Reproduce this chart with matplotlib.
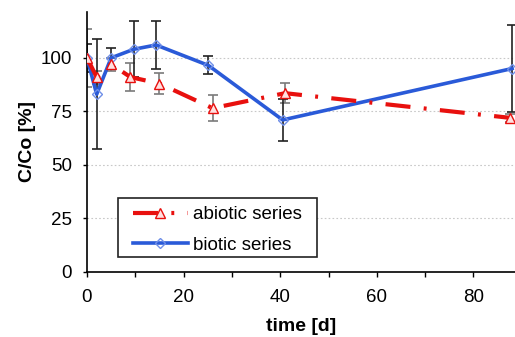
import matplotlib
matplotlib.use("Agg")
import matplotlib.pyplot as plt
from matplotlib.ticker import MultipleLocator
from matplotlib.patches import Rectangle

plt.rcParams['font.family'] = ['Liberation Sans', 'DejaVu Sans']

# abiotic series
abio_t = [0, 2, 5, 9, 15, 26, 41, 87.5]
abio_y = [100, 91, 97, 91, 88, 76.5, 83.5, 72]
abio_err = [13.4, 3, 3, 6.6, 4.7, 6, 4.7, 2]

# biotic series
bio_t = [0, 2, 5, 9.7, 14.3, 25.1, 40.5, 88]
bio_y = [100, 83, 100, 104, 106, 96.5, 71, 95]
bio_err = [6.5, 25.7, 4.5, 13, 11.4, 4.2, 10, 20.5]

xticks = [0, 20, 40, 60, 80]
yticks = [0, 25, 50, 75, 100]

fig = plt.figure(figsize=(5.15, 3.37), dpi=100)
ax = fig.add_axes([87/515, 65/337, 428/515, 260/337])

red = '#e8100e'
blue = '#2a5ad8'

ax.errorbar(abio_t, abio_y, yerr=abio_err, fmt='none', ecolor='#7a7a7a',
            elinewidth=1.2, capsize=3.3, capthick=1.2, zorder=2)
ax.errorbar(bio_t, bio_y, yerr=bio_err, fmt='none', ecolor='#222222',
            elinewidth=1.2, capsize=3.3, capthick=1.2, zorder=2)

ax.plot(abio_t, abio_y, color=red, lw=3, linestyle=(0, (6, 3.2, 0.7, 3.2)),
        marker='^', markersize=7, markerfacecolor='#ffe0e0',
        markeredgecolor=red, markeredgewidth=1.0, label='abiotic series', zorder=4)
ax.plot(bio_t, bio_y, color=blue, lw=2.6, linestyle='-',
        marker='D', markersize=5.5, markerfacecolor='none',
        markeredgecolor='#6f8fe8', markeredgewidth=1.0, label='biotic series', zorder=3)

ax.set_xlim(0, 88.6)
ax.set_ylim(0, 121.4)
ax.set_xticks(xticks)
ax.set_yticks(yticks)
ax.xaxis.set_minor_locator(MultipleLocator(10))
ax.tick_params(axis='x', which='both', direction='out', length=3.6, width=1,
               labelsize=13.5, pad=9)
ax.tick_params(axis='y', which='major', direction='out', length=3, width=1,
               labelsize=13.5, pad=7.8)
for s in ['top', 'right']:
    ax.spines[s].set_visible(False)
for s in ['left', 'bottom']:
    ax.spines[s].set_linewidth(1.2)

ax.yaxis.grid(True, linestyle=(0, (1.5, 2)), color='#c8c8c8', linewidth=0.8)
ax.set_axisbelow(True)

ax.set_xlabel('time [d]', fontsize=14, fontweight='bold', labelpad=8)
ax.set_ylabel('C/Co [%]', fontsize=14, fontweight='bold', labelpad=3)

# legend frame drawn separately for exact padding
ax.add_patch(Rectangle((0.0724, 0.0577), 0.537 - 0.0724, 0.285 - 0.0577,
                       transform=ax.transAxes, facecolor='white',
                       edgecolor='#222222', linewidth=1.2, zorder=5))
leg = ax.legend(loc='upper left', bbox_to_anchor=(0.1075, 0.254), fontsize=13.5,
                frameon=False, handlelength=2.93, handletextpad=0.27,
                borderpad=0, labelspacing=0.71, borderaxespad=0)
leg.set_zorder(6)

fig.savefig('out.png', dpi=100)
